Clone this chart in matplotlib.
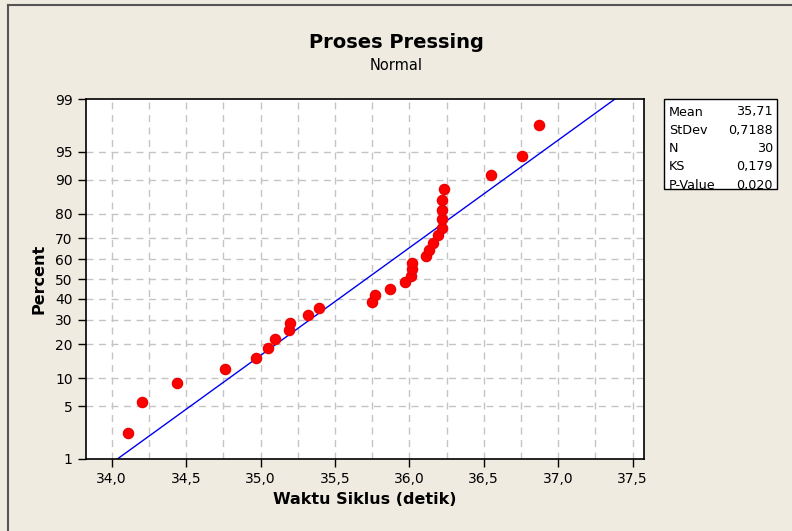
import numpy as np
import matplotlib
matplotlib.use("Agg")
import matplotlib.pyplot as plt
from matplotlib.patches import Rectangle
from statistics import NormalDist

# data (sorted cycle times, seconds)
waktu = [34.11, 34.20, 34.44, 34.76, 34.97, 35.05, 35.10, 35.19, 35.20, 35.32,
         35.39, 35.75, 35.77, 35.87, 35.97, 36.01, 36.02, 36.02, 36.11, 36.13,
         36.16, 36.19, 36.22, 36.22, 36.22, 36.22, 36.23, 36.55, 36.76, 36.87]
mean = 35.71
stdev = 0.7188
ks = 0.179
pval = 0.020

pct_ticks = [1, 5, 10, 20, 30, 40, 50, 60, 70, 80, 90, 95, 99]
x_ticks = [34.0, 34.5, 35.0, 35.5, 36.0, 36.5, 37.0, 37.5]

nd = NormalDist()
def z(p):
    return nd.inv_cdf(p / 100.0)

n = len(waktu)
# median ranks as in Minitab
pos = [(i - 0.3) / (n + 0.4) * 100 for i in range(1, n + 1)]

bg = "#efebe1"
fig = plt.figure(figsize=(7.92, 5.31), dpi=100, facecolor=bg)
plt.rcParams['font.family'] = ['DejaVu Sans']

ax = fig.add_axes([86/792, 1 - 459/531, (644-86)/792, (459-99)/531])
ax.set_facecolor("white")

# grid
for xv in np.arange(34.0, 37.51, 0.25):
    ax.axvline(xv, color="#c4c4c4", lw=1, ls=(0, (5, 4)), zorder=0)
for p in pct_ticks[1:-1]:
    ax.axhline(z(p), color="#c4c4c4", lw=1, ls=(0, (5, 4)), zorder=0)

# fitted line
xl = np.linspace(33.5, 38.0, 200)
zl = (xl - mean) / stdev
ax.plot(xl, zl, color="#0000ee", lw=1, zorder=2)

ax.plot(waktu, [z(p) for p in pos], "o", color="#ff0000", ms=7.3, mec="#ee0000", zorder=3)

ax.set_xlim(33.827, 37.577)
ax.set_ylim(z(1), z(99))
ax.set_xticks(x_ticks)
ax.set_xticklabels([f"{v:.1f}".replace(".", ",") for v in x_ticks])
ax.set_yticks([z(p) for p in pct_ticks])
ax.set_yticklabels([str(p) for p in pct_ticks])
ax.tick_params(direction="out", length=6, width=1, labelsize=10, color="black")
for s in ax.spines.values():
    s.set_linewidth(1.2)

ax.set_xlabel("Waktu Siklus (detik)", fontsize=11.5, fontweight="bold", labelpad=4)
ax.set_ylabel("Percent", fontsize=11.5, fontweight="bold", labelpad=6)

fig.text(0.5, 1 - 43/531, "Proses Pressing", ha="center", va="center",
         fontsize=14, fontweight="bold")
fig.text(0.5, 1 - 66/531, "Normal", ha="center", va="center", fontsize=10.5)

# stats box
fig.patches.append(Rectangle((664/792, 1 - 189/531), (777-664)/792, 90/531,
                             transform=fig.transFigure, facecolor="white",
                             edgecolor="black", lw=1))
rows = [("Mean", "35,71"), ("StDev", "0,7188"), ("N", str(n)),
        ("KS", f"{ks:.3f}".replace(".", ",")), ("P-Value", f"{pval:.3f}".replace(".", ","))]
for k, (lab, val) in enumerate(rows):
    yy = 1 - (112 + k * 18.3) / 531
    fig.text(669/792, yy, lab, ha="left", va="center", fontsize=9.2)
    fig.text(773/792, yy, val, ha="right", va="center", fontsize=9.2)

# outer frame
fig.add_artist(plt.Line2D([8/792, 8/792], [0, 1 - 5/531], transform=fig.transFigure, color="#555555", lw=1.5))
fig.add_artist(plt.Line2D([8/792, 1], [1 - 5/531, 1 - 5/531], transform=fig.transFigure, color="#555555", lw=1.5))

fig.savefig("out.png", dpi=100, facecolor=bg)
